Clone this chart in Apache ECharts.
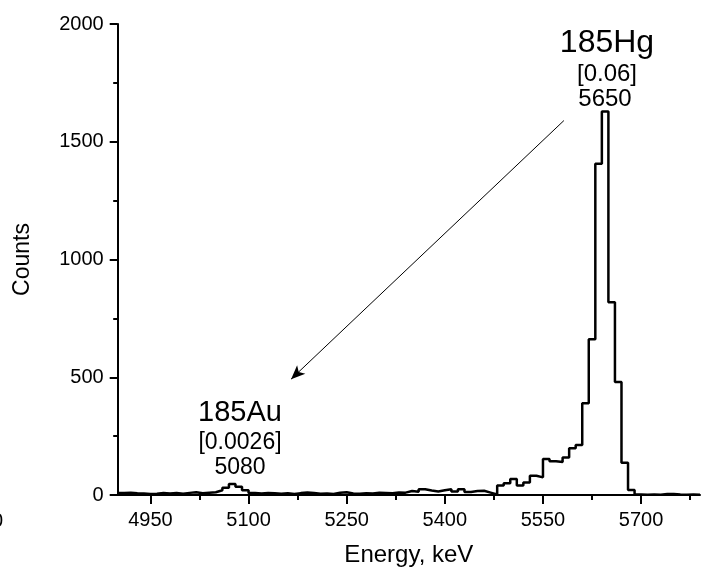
<!DOCTYPE html>
<html>
<head>
<meta charset="utf-8">
<script src="https://cdn.jsdelivr.net/npm/echarts@6/dist/echarts.min.js"></script>
<style>
html,body{margin:0;padding:0;background:#fff;}
#c{width:702px;height:572px;}
</style>
</head>
<body>
<div id="c"></div>
<script>
// Bin lower edges (keV), 10 keV bins
var binStart = 4900;
var binWidth = 10;
// Counts per bin
var counts = [
  8, 10, 7, 6, 4, 5, 8, 6, 9, 5,          // 4900-4990
  9, 12, 7, 10, 12, 20, 31, 47, 35, 20,   // 5000-5090
  8, 6, 9, 7, 5, 7, 4, 8, 11, 9,          // 5100-5190
  5, 6, 4, 10, 12, 6, 5, 7, 6, 10,        // 5200-5290
  9, 7, 11, 10, 17, 14, 24, 19, 15, 20,   // 5300-5390
  24, 15, 24, 13, 17, 18, 10, 2, 40, 50,  // 5400-5490
  68, 40, 53, 82, 75, 153, 143, 140, 159, 198, // 5500-5590
  212, 390, 661, 1407, 1628, 819, 480, 137, 21, 2, // 5600-5690
  1, 2, 1, 4, 4, 2, 1, 2, 1               // 5700-5780
];
var xMajorTicks = [4950, 5100, 5250, 5400, 5550, 5700];
var xMinorTicks = [4950, 5025, 5100, 5175, 5250, 5325, 5400, 5475, 5550, 5625, 5700, 5775];
var yTicks = [0, 500, 1000, 1500, 2000];
var arrowFrom = [5582, 1590];
var arrowTo = [5165, 492];
var hgLabels = ['185Hg', '[0.06]', '5650'];
var auLabels = ['185Au', '[0.0026]', '5080'];

var FONT = 'Liberation Sans, Arial, Helvetica, sans-serif';

// Build step-histogram points: each bin lower edge plus final upper edge
var pts = [];
for (var i = 0; i < counts.length; i++) {
  pts.push([binStart + i * binWidth, counts[i]]);
}
pts.push([binStart + counts.length * binWidth, counts[counts.length - 1]]);

function plain(v) { return String(v); }

var chart = echarts.init(document.getElementById('c'), null, {renderer: 'canvas'});
var option = {
  animation: false,
  backgroundColor: '#fff',
  grid: {left: 117.7, right: 2, top: 24, bottom: 76, containLabel: false},
  xAxis: [{
    type: 'value', min: 4900, max: 5790,
    name: 'Energy, keV', nameLocation: 'middle', nameGap: 48,
    nameTextStyle: {fontFamily: FONT, fontSize: 24, color: '#000'},
    axisLine: {show: true, onZero: false, lineStyle: {color: '#000', width: 2}},
    axisTick: {show: true, length: 9, customValues: xMajorTicks, lineStyle: {color: '#000', width: 2}},
    axisLabel: {show: true, customValues: xMajorTicks, margin: 15, fontFamily: FONT, fontSize: 20, color: '#000', formatter: plain},
    splitLine: {show: false}
  }, {
    type: 'value', min: 4900, max: 5790, position: 'bottom', gridIndex: 0,
    axisLine: {show: false},
    axisTick: {show: true, length: 5, customValues: xMinorTicks, lineStyle: {color: '#000', width: 2}},
    axisLabel: {show: false},
    splitLine: {show: false}
  }],
  yAxis: [{
    type: 'value', min: 0, max: 2000, interval: 500,
    name: 'Counts', nameLocation: 'middle', nameGap: 84, nameRotate: 90,
    nameTextStyle: {fontFamily: FONT, fontSize: 23, color: '#000'},
    axisLine: {show: true, lineStyle: {color: '#000', width: 2}},
    axisTick: {show: true, length: 8, lineStyle: {color: '#000', width: 2}},
    minorTick: {show: true, splitNumber: 2, length: 4.5, lineStyle: {color: '#000', width: 2}},
    axisLabel: {margin: 14, fontFamily: FONT, fontSize: 20, color: '#000', formatter: plain},
    splitLine: {show: false}
  }],
  series: [{
    type: 'line',
    data: pts,
    step: 'end',
    showSymbol: false,
    symbol: 'none',
    lineStyle: {color: '#000', width: 2.5},
    clip: true,
    markLine: {
      silent: true,
      symbol: ['none', 'arrow'],
      symbolSize: [9, 14],
      label: {show: false},
      lineStyle: {color: '#000', width: 1, type: 'solid'},
      data: [[{coord: arrowFrom}, {coord: arrowTo}]]
    }
  }],
  graphic: [
    {type: 'text', x: 607, y: 43, style: {text: hgLabels[0], font: '32px ' + FONT, fill: '#000', textAlign: 'center', textVerticalAlign: 'middle'}},
    {type: 'text', x: 607, y: 74, style: {text: hgLabels[1], font: '24px ' + FONT, fill: '#000', textAlign: 'center', textVerticalAlign: 'middle'}},
    {type: 'text', x: 605, y: 99, style: {text: hgLabels[2], font: '24px ' + FONT, fill: '#000', textAlign: 'center', textVerticalAlign: 'middle'}},
    {type: 'text', x: 240, y: 413, style: {text: auLabels[0], font: '29px ' + FONT, fill: '#000', textAlign: 'center', textVerticalAlign: 'middle'}},
    {type: 'text', x: 240, y: 443, style: {text: auLabels[1], font: '23px ' + FONT, fill: '#000', textAlign: 'center', textVerticalAlign: 'middle'}},
    {type: 'text', x: 240, y: 468, style: {text: auLabels[2], font: '23px ' + FONT, fill: '#000', textAlign: 'center', textVerticalAlign: 'middle'}},
    {type: 'text', x: 3, y: 521, style: {text: '0', font: '20px ' + FONT, fill: '#000', textAlign: 'right', textVerticalAlign: 'middle'}}
  ]
};
chart.setOption(option);
</script>
</body>
</html>
